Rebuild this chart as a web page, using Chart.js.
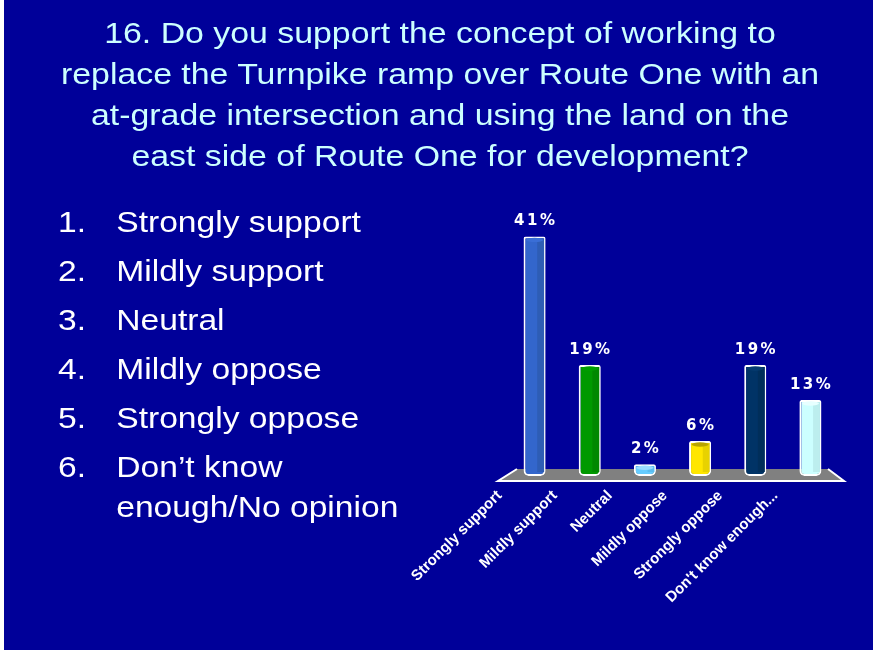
<!DOCTYPE html>
<html><head><meta charset="utf-8">
<script src="https://cdn.jsdelivr.net/npm/chart.js@4"></script>
<style>
html,body{margin:0;padding:0;}
body{width:873px;height:650px;background:#000099;position:relative;overflow:hidden;font-family:"Liberation Sans",Arial,sans-serif;}
#strip{position:absolute;left:0;top:0;width:4px;height:650px;background:#ffffff;}
#title{position:absolute;left:0;top:12px;width:880px;text-align:center;color:#CCFFFF;font-size:30px;line-height:41px;z-index:2;transform:scaleX(1.128);transform-origin:440px 0;}
#list{position:absolute;left:58px;top:202px;color:#ffffff;font-size:30px;line-height:40px;z-index:2;transform:scaleX(1.12);transform-origin:0 0;}
.item{display:flex;margin-bottom:9px;}
.num{width:52px;flex:none;}
.txt{width:265px;}
#c{position:absolute;left:0;top:0;z-index:1;}
</style>
</head>
<body>
<div id="strip"></div>
<div id="title"></div>
<div id="list"></div>
<canvas id="c" width="873" height="650"></canvas>
<script>
const titleLines = [
  "16. Do you support the concept of working to",
  "replace the Turnpike ramp over Route One with an",
  "at-grade intersection and using the land on the",
  "east side of Route One for development?"
];
const listItems = ["Strongly support","Mildly support","Neutral","Mildly oppose","Strongly oppose","Don\u2019t know enough/No opinion"];
const categories = ["Strongly support","Mildly support","Neutral","Mildly oppose","Strongly oppose","Don't know enough..."];
const values = [41, 19, 2, 6, 19, 13];
const barColors = ["#3366CC","#009900","#66CCFF","#FFE600","#003366","#CCFFFF"];
const shadeColors = ["#2E5DB5","#008800","#5BBDF0","#E8D200","#002E5A","#BCEEEE"];
const topColors = ["#3A6ED6","#00A000","#99DDFF","#B8A400","#063C70","#E6FFFF"];

document.getElementById('title').innerHTML = titleLines.join('<br>');
const list = document.getElementById('list');
listItems.forEach((t,i)=>{
  const d = document.createElement('div'); d.className='item';
  const n = document.createElement('div'); n.className='num'; n.textContent=(i+1)+'.';
  const s = document.createElement('div'); s.className='txt'; s.textContent=t;
  d.appendChild(n); d.appendChild(s); list.appendChild(d);
});

const deco = {
  id:'deco',
  beforeDatasetsDraw(chart){
    const {ctx, chartArea:a, scales:{y}} = chart;
    const y0 = y.getPixelForValue(0);
    ctx.save();
    ctx.beginPath();
    ctx.moveTo(a.left+10, y0-7);
    ctx.lineTo(a.right-10, y0-7);
    ctx.lineTo(a.right+6, y0+5);
    ctx.lineTo(a.left-9, y0+5);
    ctx.closePath();
    ctx.fillStyle='#808080'; ctx.fill();
    ctx.beginPath();
    ctx.moveTo(a.left+10, y0-7); ctx.lineTo(a.left-9, y0+5);
    ctx.lineTo(a.right+6, y0+5); ctx.lineTo(a.right-10, y0-7);
    ctx.strokeStyle='#ffffff'; ctx.lineWidth=2; ctx.stroke();
    ctx.restore();
  },
  afterDatasetsDraw(chart){
    const ctx = chart.ctx;
    const meta = chart.getDatasetMeta(0);
    ctx.save();
    meta.data.forEach((bar,i)=>{
      const w = bar.width, x = bar.x, top = bar.y, base = bar.base;
      const h = base - top;
      if (h > 10) {
        ctx.fillStyle = shadeColors[i];
        ctx.fillRect(x + w*0.12, top+2, w/2 - w*0.12 - 1.5, h-6);
      }
      ctx.beginPath();
      ctx.ellipse(x, top+3.5, w/2-2.5, 2.2, 0, 0, 2*Math.PI);
      ctx.fillStyle = topColors[i]; ctx.fill();
      ctx.fillStyle='#ffffff';
      ctx.font='bold 15px "DejaVu Sans"';
      ctx.textAlign='center'; ctx.textBaseline='alphabetic';
      try { ctx.letterSpacing='2.5px'; } catch(e){}
      ctx.fillText(values[i]+'%', x+1.2, top-11);
    });
    ctx.restore();
  }
};

new Chart(document.getElementById('c'), {
  type:'bar',
  data:{
    labels: categories,
    datasets:[{
      data: values,
      backgroundColor: barColors,
      borderColor:'#ffffff',
      borderWidth:2,
      borderSkipped:false,
      borderRadius:{topLeft:2, topRight:2, bottomLeft:5, bottomRight:5},
      barPercentage:0.4,
      categoryPercentage:1.0
    }]
  },
  options:{
    responsive:false,
    animation:false,
    devicePixelRatio:1,
    layout:{padding:{left:507, right:35, top:213, bottom:0}},
    plugins:{legend:{display:false}, tooltip:{enabled:false}, title:{display:false}},
    scales:{
      x:{
        grid:{display:false, drawTicks:false},
        border:{display:false},
        ticks:{
          color:'#ffffff',
          font:{family:'"Liberation Sans", Arial, sans-serif', size:15, weight:'bold'},
          minRotation:45, maxRotation:45, autoSkip:false,
          labelOffset:-35, padding:11
        },
        afterFit(scale){ scale.height = 174; }
      },
      y:{display:false, min:0, max:45}
    }
  },
  plugins:[deco]
});
</script>
</body></html>
